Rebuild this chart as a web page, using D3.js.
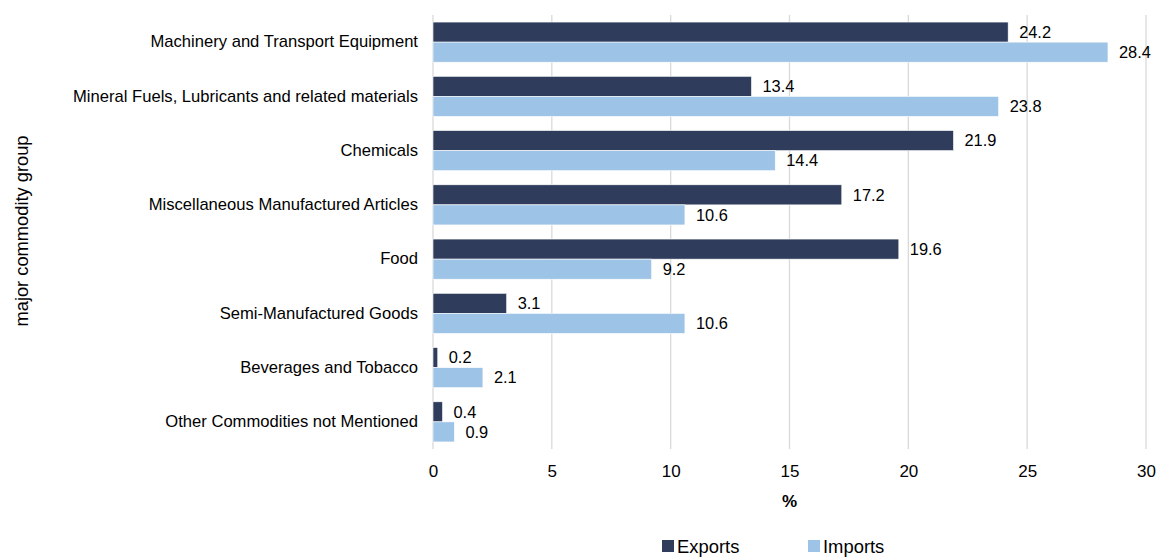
<!DOCTYPE html>
<html>
<head>
<meta charset="utf-8">
<script src="https://cdn.jsdelivr.net/npm/d3@7"></script>
<style>
  body { margin: 0; background: #fff; }
  svg { font-family: Arial, "Liberation Sans", sans-serif; }
</style>
</head>
<body>
<div id="chart"></div>
<script>
// category labels, top to bottom
const categories = [
  "Machinery and Transport Equipment",
  "Mineral Fuels, Lubricants and related materials",
  "Chemicals",
  "Miscellaneous Manufactured Articles",
  "Food",
  "Semi-Manufactured Goods",
  "Beverages and Tobacco",
  "Other Commodities not Mentioned"
];
const exportsVals = [24.2, 13.4, 21.9, 17.2, 19.6, 3.1, 0.2, 0.4];
const importsVals = [28.4, 23.8, 14.4, 10.6, 9.2, 10.6, 2.1, 0.9];
const seriesNames = ["Exports", "Imports"];
const xTicks = [0, 5, 10, 15, 20, 25, 30];

const W = 1159, H = 557;
const margin = { top: 15, right: 13, bottom: 108, left: 433 };
const width = W - margin.left - margin.right;
const height = H - margin.top - margin.bottom;
const colors = { Exports: "#2f3c5b", Imports: "#9dc3e6" };

const rows = categories.map((c, i) => ({ cat: c, Exports: exportsVals[i], Imports: importsVals[i] }));

const svg = d3.select("#chart").append("svg")
  .attr("width", W).attr("height", H);
const g = svg.append("g").attr("transform", `translate(${margin.left},${margin.top})`);

const x = d3.scaleLinear().domain([0, 30]).range([0, width]);
const y = d3.scaleBand().domain(categories).range([0, height]).paddingInner(0.26).paddingOuter(0.13);
const ySub = d3.scaleBand().domain(seriesNames).range([0, y.bandwidth()]);

// gridlines
g.append("g").selectAll("line")
  .data(xTicks)
  .join("line")
    .attr("x1", d => x(d)).attr("x2", d => x(d))
    .attr("y1", 0).attr("y2", height)
    .attr("stroke", "#d9d9d9").attr("stroke-width", 1.3);

// x tick labels
const xAxisG = g.append("g").attr("transform", `translate(0,${height})`)
  .call(d3.axisBottom(x).tickValues(xTicks).tickSize(0).tickPadding(16));
xAxisG.select(".domain").remove();
xAxisG.selectAll("text").attr("font-size", 17).attr("fill", "#000")
  .attr("font-family", "Arial, 'Liberation Sans', sans-serif");

// y category labels
const yAxisG = g.append("g").call(d3.axisLeft(y).tickSize(0).tickPadding(15));
yAxisG.select(".domain").remove();
yAxisG.selectAll("text").attr("font-size", 16.6).attr("fill", "#000")
  .attr("font-family", "Arial, 'Liberation Sans', sans-serif");

// bars
const groups = g.append("g").selectAll("g")
  .data(rows)
  .join("g")
    .attr("transform", d => `translate(0,${y(d.cat)})`);

groups.selectAll("rect")
  .data(d => seriesNames.map(s => ({ s, v: d[s] })))
  .join("rect")
    .attr("x", x(0))
    .attr("y", d => ySub(d.s))
    .attr("width", d => x(d.v) - x(0))
    .attr("height", ySub.bandwidth())
    .attr("fill", d => colors[d.s])
    .attr("stroke", "#fff").attr("stroke-width", 0.6);

groups.selectAll("text")
  .data(d => seriesNames.map(s => ({ s, v: d[s] })))
  .join("text")
    .attr("x", d => x(d.v) + 11)
    .attr("y", d => ySub(d.s) + ySub.bandwidth() / 2)
    .attr("dy", "0.35em")
    .attr("font-size", 16.4)
    .text(d => d.v.toFixed(1));

// axis titles
svg.append("text")
  .attr("x", margin.left + x(15)).attr("y", 507)
  .attr("text-anchor", "middle").attr("font-size", 17).attr("font-weight", "bold")
  .text("%");

svg.append("text")
  .attr("transform", `translate(28,231) rotate(-90)`)
  .attr("text-anchor", "middle").attr("font-size", 18.3)
  .text("major commodity group");

// legend
const legend = svg.append("g").attr("transform", "translate(662,540)");
const items = legend.selectAll("g")
  .data(seriesNames)
  .join("g")
    .attr("transform", (d, i) => `translate(${i * 146},0)`);
items.append("rect").attr("width", 12).attr("height", 12).attr("fill", d => colors[d]);
items.append("text").attr("x", 15).attr("y", 7).attr("dy", "0.35em")
  .attr("font-size", 18.4).text(d => d);
</script>
</body>
</html>
